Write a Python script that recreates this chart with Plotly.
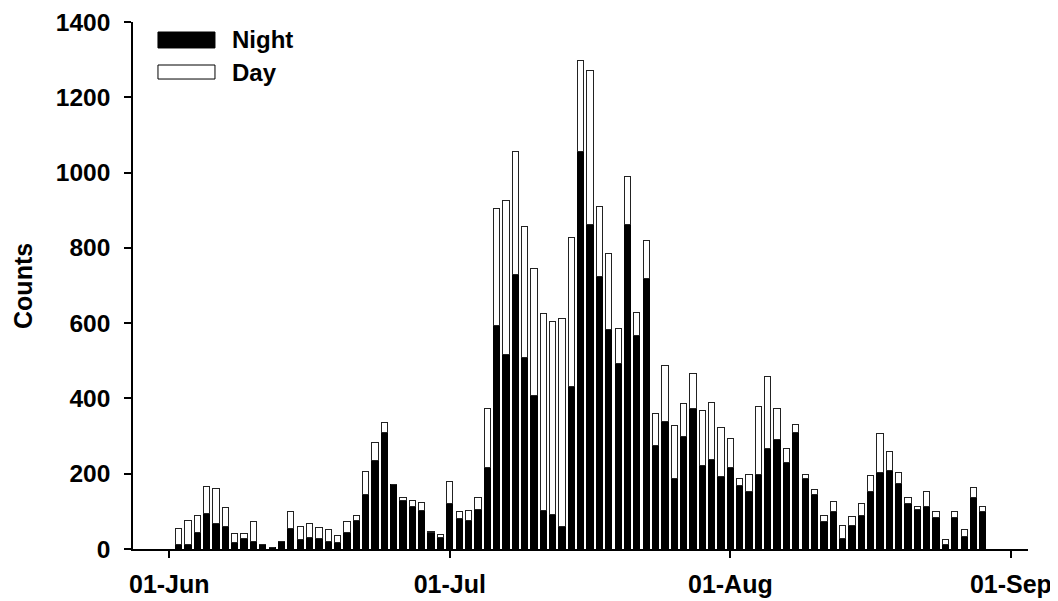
import plotly.graph_objects as go

# Day index counted from 01-Jun (tick spacing of 30 days as in the source chart)
days = list(range(1, 88))
night = [11, 11, 43, 94, 67, 60, 17, 28, 20, 12, 5, 20, 54, 25, 30, 28, 19, 16, 43, 75,
         144, 235, 309, 171, 129, 113, 102, 43, 30, 120, 80, 77, 106, 216, 595, 516, 728, 508, 408, 103,
         92, 61, 432, 1057, 861, 723, 584, 494, 861, 568, 718, 275, 339, 187, 299, 373, 222, 237, 192, 216,
         168, 152, 197, 268, 291, 229, 309, 187, 144, 72, 99, 29, 62, 88, 152, 203, 208, 173, 120, 104,
         112, 85, 12, 85, 32, 136, 99]
total = [55, 76, 90, 167, 160, 109, 42, 42, 74, 13, 5, 20, 100, 61, 68, 56, 52, 36, 73, 90,
         207, 284, 337, 171, 136, 130, 124, 47, 39, 179, 100, 101, 136, 374, 905, 927, 1057, 857, 746, 626,
         604, 612, 827, 1297, 1272, 909, 785, 585, 989, 628, 820, 361, 488, 327, 386, 466, 367, 388, 324, 294,
         188, 199, 379, 458, 372, 268, 332, 199, 158, 90, 127, 63, 87, 122, 196, 307, 259, 204, 138, 114,
         154, 100, 26, 100, 52, 164, 114]
day = [t - n for t, n in zip(total, night)]

tick_vals = [0, 30, 60, 90]
tick_text = ["01-Jun", "01-Jul", "01-Aug", "01-Sep"]
y_ticks = [0, 200, 400, 600, 800, 1000, 1200, 1400]

FONT = "Liberation Sans, Arial, sans-serif"

fig = go.Figure()
fig.add_trace(go.Bar(x=days, y=night, name="Night",
                     marker=dict(color="black", line=dict(color="black", width=1))))
fig.add_trace(go.Bar(x=days, y=day, name="Day",
                     marker=dict(color="white", line=dict(color="#222", width=1))))

fig.update_layout(
    barmode="stack",
    bargap=0.33,
    width=1050, height=593,
    margin=dict(l=125, r=30, t=14, b=52, autoexpand=False),
    paper_bgcolor="white", plot_bgcolor="white",
    showlegend=False,
    font=dict(family=FONT, size=22, color="black"),
    xaxis=dict(range=[-3.88, 91.83], tickmode="array", tickvals=tick_vals, ticktext=tick_text,
               showgrid=False, zeroline=False, showline=True, linecolor="black", linewidth=2,
               ticks="outside", ticklen=7, tickwidth=1.5, tickcolor="black",
               ticklabelstandoff=5,
               tickfont=dict(family=FONT, size=25, weight="bold")),
    yaxis=dict(range=[0, 1400], tickmode="array", tickvals=y_ticks,
               showgrid=False, zeroline=False, showline=True, linecolor="black", linewidth=1.5,
               ticks="outside", ticklen=7, tickwidth=1.5, tickcolor="black",
               ticklabelstandoff=9,
               tickfont=dict(family=FONT, size=24.5, weight="bold")),
)

# y-axis title
fig.add_annotation(text="Counts", xref="paper", yref="paper", x=-0.1235, y=0.5,
                   textangle=-90, showarrow=False, xanchor="center", yanchor="middle",
                   font=dict(family=FONT, size=25, weight="bold"))

# custom legend (wide swatches as in the source)
fig.add_shape(type="rect", xref="paper", yref="paper", x0=0.0279, x1=0.0916, y0=0.9507, y1=0.981,
              fillcolor="black", line=dict(color="black", width=1))
fig.add_shape(type="rect", xref="paper", yref="paper", x0=0.0279, x1=0.0916, y0=0.8918, y1=0.9184,
              fillcolor="white", line=dict(color="black", width=1))
fig.add_annotation(text="Night", xref="paper", yref="paper", x=0.1084, y=0.966, showarrow=False,
                   xanchor="left", yanchor="middle", font=dict(family=FONT, size=24, weight="bold"))
fig.add_annotation(text="Day", xref="paper", yref="paper", x=0.1084, y=0.905, showarrow=False,
                   xanchor="left", yanchor="middle", font=dict(family=FONT, size=24, weight="bold"))

fig.write_html("out.html")
